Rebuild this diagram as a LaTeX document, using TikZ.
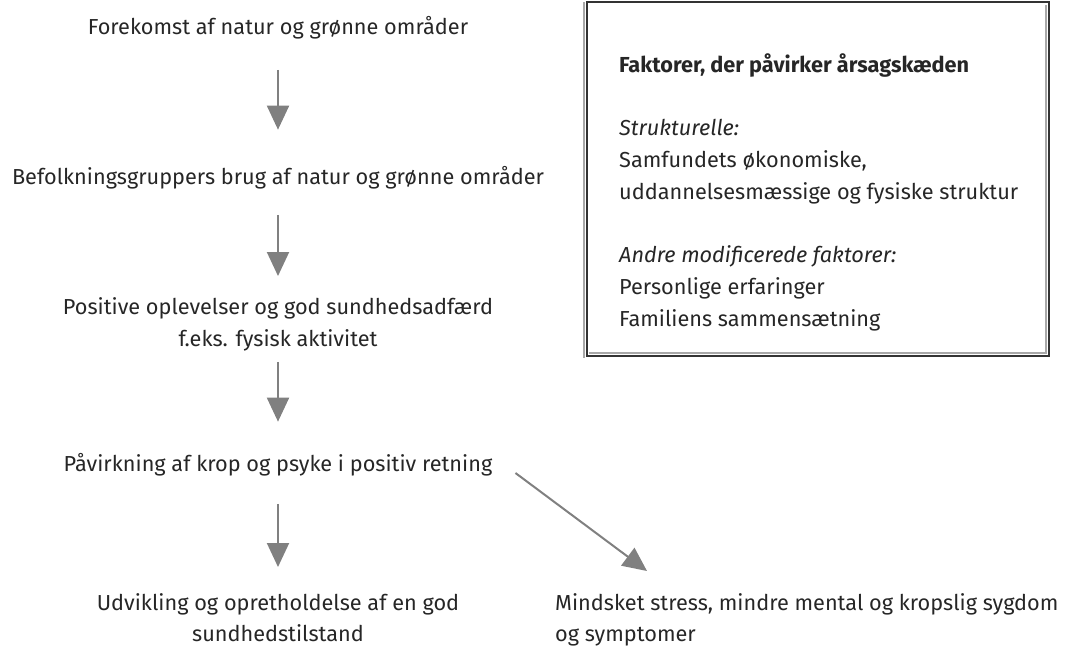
\documentclass[tikz,border=0pt]{standalone}
\usepackage{fontspec}
\setmainfont{Fira Sans}
\usetikzlibrary{positioning,arrows.meta,calc}

\definecolor{txtgray}{HTML}{262626}
\definecolor{arrgray}{HTML}{808080}
\definecolor{framegray}{HTML}{A8A8A8}

\tikzset{
	txt/.style={font=\fontsize{21.7}{32}\selectfont, text=txtgray, inner sep=0pt},
	arr/.style={draw=arrgray, line width=2pt, -{Triangle[width=22pt,length=24pt]}},
}

\begin{document}
\begin{tikzpicture}[x=1pt, y=-1pt]
	\useasboundingbox (0,0) rectangle (1070,645);

	% Chain:
	\node[txt, anchor=base] (forekomst) at (278, 34) {Forekomst af natur og grønne områder};
	\node[txt, anchor=base] (befolkning) at (278, 184) {Befolkningsgruppers brug af natur og grønne områder};
	\node[txt, anchor=north, align=center] (positive) at (278, 297) {Positive oplevelser og god sundhedsadfærd\\f.eks. fysisk aktivitet};
	\node[txt, anchor=base] (paavirk) at (278, 471) {Påvirkning af krop og psyke i positiv retning};
	\node[txt, anchor=north, align=center, font=\fontsize{21.7}{31}\selectfont] (udvikling) at (278, 593) {Udvikling og opretholdelse af en god\\sundhedstilstand};
	\node[txt, anchor=north west, align=left, font=\fontsize{21.7}{31}\selectfont] (mindsket) at (555, 593) {Mindsket stress, mindre mental og kropslig sygdom\\og symptomer};

	% Box:
	\node[txt, anchor=north west, align=left] (faktorer) at (619, 53) {\textbf{Faktorer, der påvirker årsagskæden}\\[31pt]
		\textit{Strukturelle:}\\
		Samfundets økonomiske,\\
		uddannelsesmæssige og fysiske struktur\\[31pt]
		\textit{Andre modificerede faktorer:}\\
		Personlige erfaringer\\
		Familiens sammensætning};
	\draw[framegray, line width=2pt] (584,2) -- (584,358);
	\draw[framegray, line width=2pt] (1046,5) -- (1046,353) -- (589,353);
	\draw[black!80, line width=2.5pt] (587,2) rectangle (1049,356);

	% Arrows:
	\draw[arr, shorten <=31pt, shorten >=36pt] (forekomst) -- (befolkning);
	\draw[arr, shorten <=26pt, shorten >=21pt] (befolkning) -- (positive);
	\draw[arr, shorten <=11pt, shorten >=31pt] (positive) -- (paavirk);
	\draw[arr, shorten <=28pt, shorten >=26pt] (paavirk) -- (udvikling);
	\draw[arr] ($(paavirk.base east)+(23,2)$) -- ($(mindsket.north west)+(92,-22)$);

\end{tikzpicture}
\end{document}
